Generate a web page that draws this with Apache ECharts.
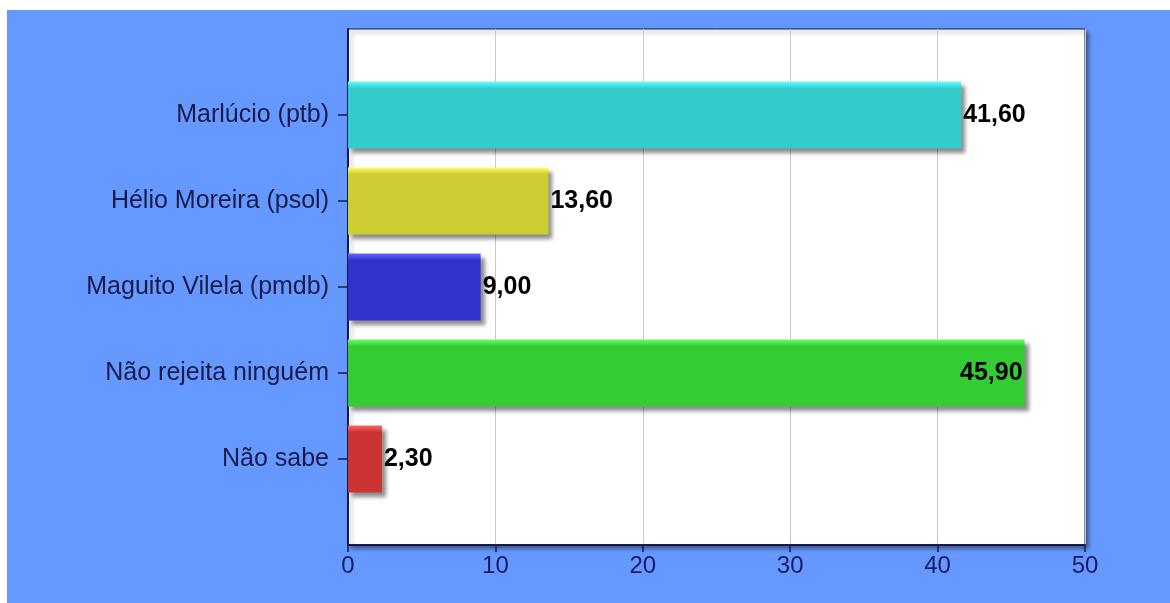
<!DOCTYPE html>
<html>
    <head>
        <meta charset="UTF-8">
        <script src="https://cdn.jsdelivr.net/npm/echarts@6/dist/echarts.min.js"></script>
        <style>
            body { margin:0; background:#ffffff; }
            #main { position:absolute; left:7px; top:10px; width:1163px; height:593px; }
        </style>
    </head>
    <body>
        <div id="main"></div>
        <script type="text/javascript">
            // data
            var categories = ['Marlúcio (ptb)', 'Hélio Moreira (psol)', 'Maguito Vilela (pmdb)', 'Não rejeita ninguém', 'Não sabe'];
            var values = [41.6, 13.6, 9.0, 45.9, 2.3];
            var barColors = ['#33cccc', '#cccc33', '#3333cc', '#33cc33', '#cc3333'];
            var lightColors = ['#66ffff', '#ffff66', '#6666ff', '#66ff66', '#ff6666'];
            var xTicks = [0, 10, 20, 30, 40, 50];

            var chartDom = document.getElementById('main');
            var myChart = echarts.init(chartDom);

            // empty slot before and after, so categories sit on the ticks
            var yData = [''].concat(categories).concat(['']);

            var barData = [null];
            values.forEach(function(v, i) {
                barData.push({
                    value: v,
                    itemStyle: {
                        color: new echarts.graphic.LinearGradient(0, 0, 0, 1, [
                            { offset: 0, color: lightColors[i] },
                            { offset: 0.1, color: barColors[i] },
                            { offset: 1, color: barColors[i] }
                        ])
                    },
                    label: { position: v > 44 ? 'insideRight' : 'right' }
                });
            });
            barData.push(null);

            var option = {
                backgroundColor: '#6699ff',
                animation: false,
                grid: {
                    left: 341,
                    top: 19,
                    right: 85,
                    bottom: 58,
                    show: true,
                    backgroundColor: '#ffffff',
                    borderColor: '#1a1a4a',
                    borderWidth: 1,
                    shadowColor: 'rgba(0,0,0,0.45)',
                    shadowBlur: 4,
                    shadowOffsetX: 3,
                    shadowOffsetY: 3
                },
                xAxis: {
                    type: 'value',
                    min: xTicks[0],
                    max: xTicks[xTicks.length - 1],
                    interval: 10,
                    axisLine: { show: true, lineStyle: { color: '#1a1a4a', width: 2 } },
                    axisTick: { show: true, length: 7, lineStyle: { color: '#1a1a4a', width: 1.5 } },
                    axisLabel: {
                        color: '#1a1a66',
                        fontFamily: 'Liberation Sans',
                        fontSize: 24,
                        margin: 9
                    },
                    splitLine: { show: true, lineStyle: { color: '#c8c8c8', width: 1 } }
                },
                yAxis: {
                    type: 'category',
                    data: yData,
                    inverse: true,
                    boundaryGap: false,
                    axisLine: { show: true, lineStyle: { color: '#1a1a4a', width: 2 } },
                    axisTick: {
                        show: true,
                        length: 10,
                        interval: function(i) { return i > 0 && i < yData.length - 1; },
                        lineStyle: { color: '#1a1a4a', width: 1.5 }
                    },
                    axisLabel: {
                        color: '#1a1a4a',
                        fontFamily: 'Liberation Sans',
                        fontSize: 25,
                        margin: 19
                    },
                    splitLine: { show: false }
                },
                series: [
                    {
                        type: 'bar',
                        data: barData,
                        barWidth: 67,
                        itemStyle: {
                            shadowColor: 'rgba(0,0,0,0.45)',
                            shadowBlur: 4,
                            shadowOffsetX: 4,
                            shadowOffsetY: 4
                        },
                        label: {
                            show: true,
                            color: '#000000',
                            fontFamily: 'Liberation Sans',
                            fontWeight: 'bold',
                            fontSize: 25,
                            distance: 2,
                            formatter: function(p) {
                                return p.value.toFixed(2).replace('.', ',');
                            }
                        }
                    }
                ]
            };

            option && myChart.setOption(option);
        </script>
    </body>
</html>
